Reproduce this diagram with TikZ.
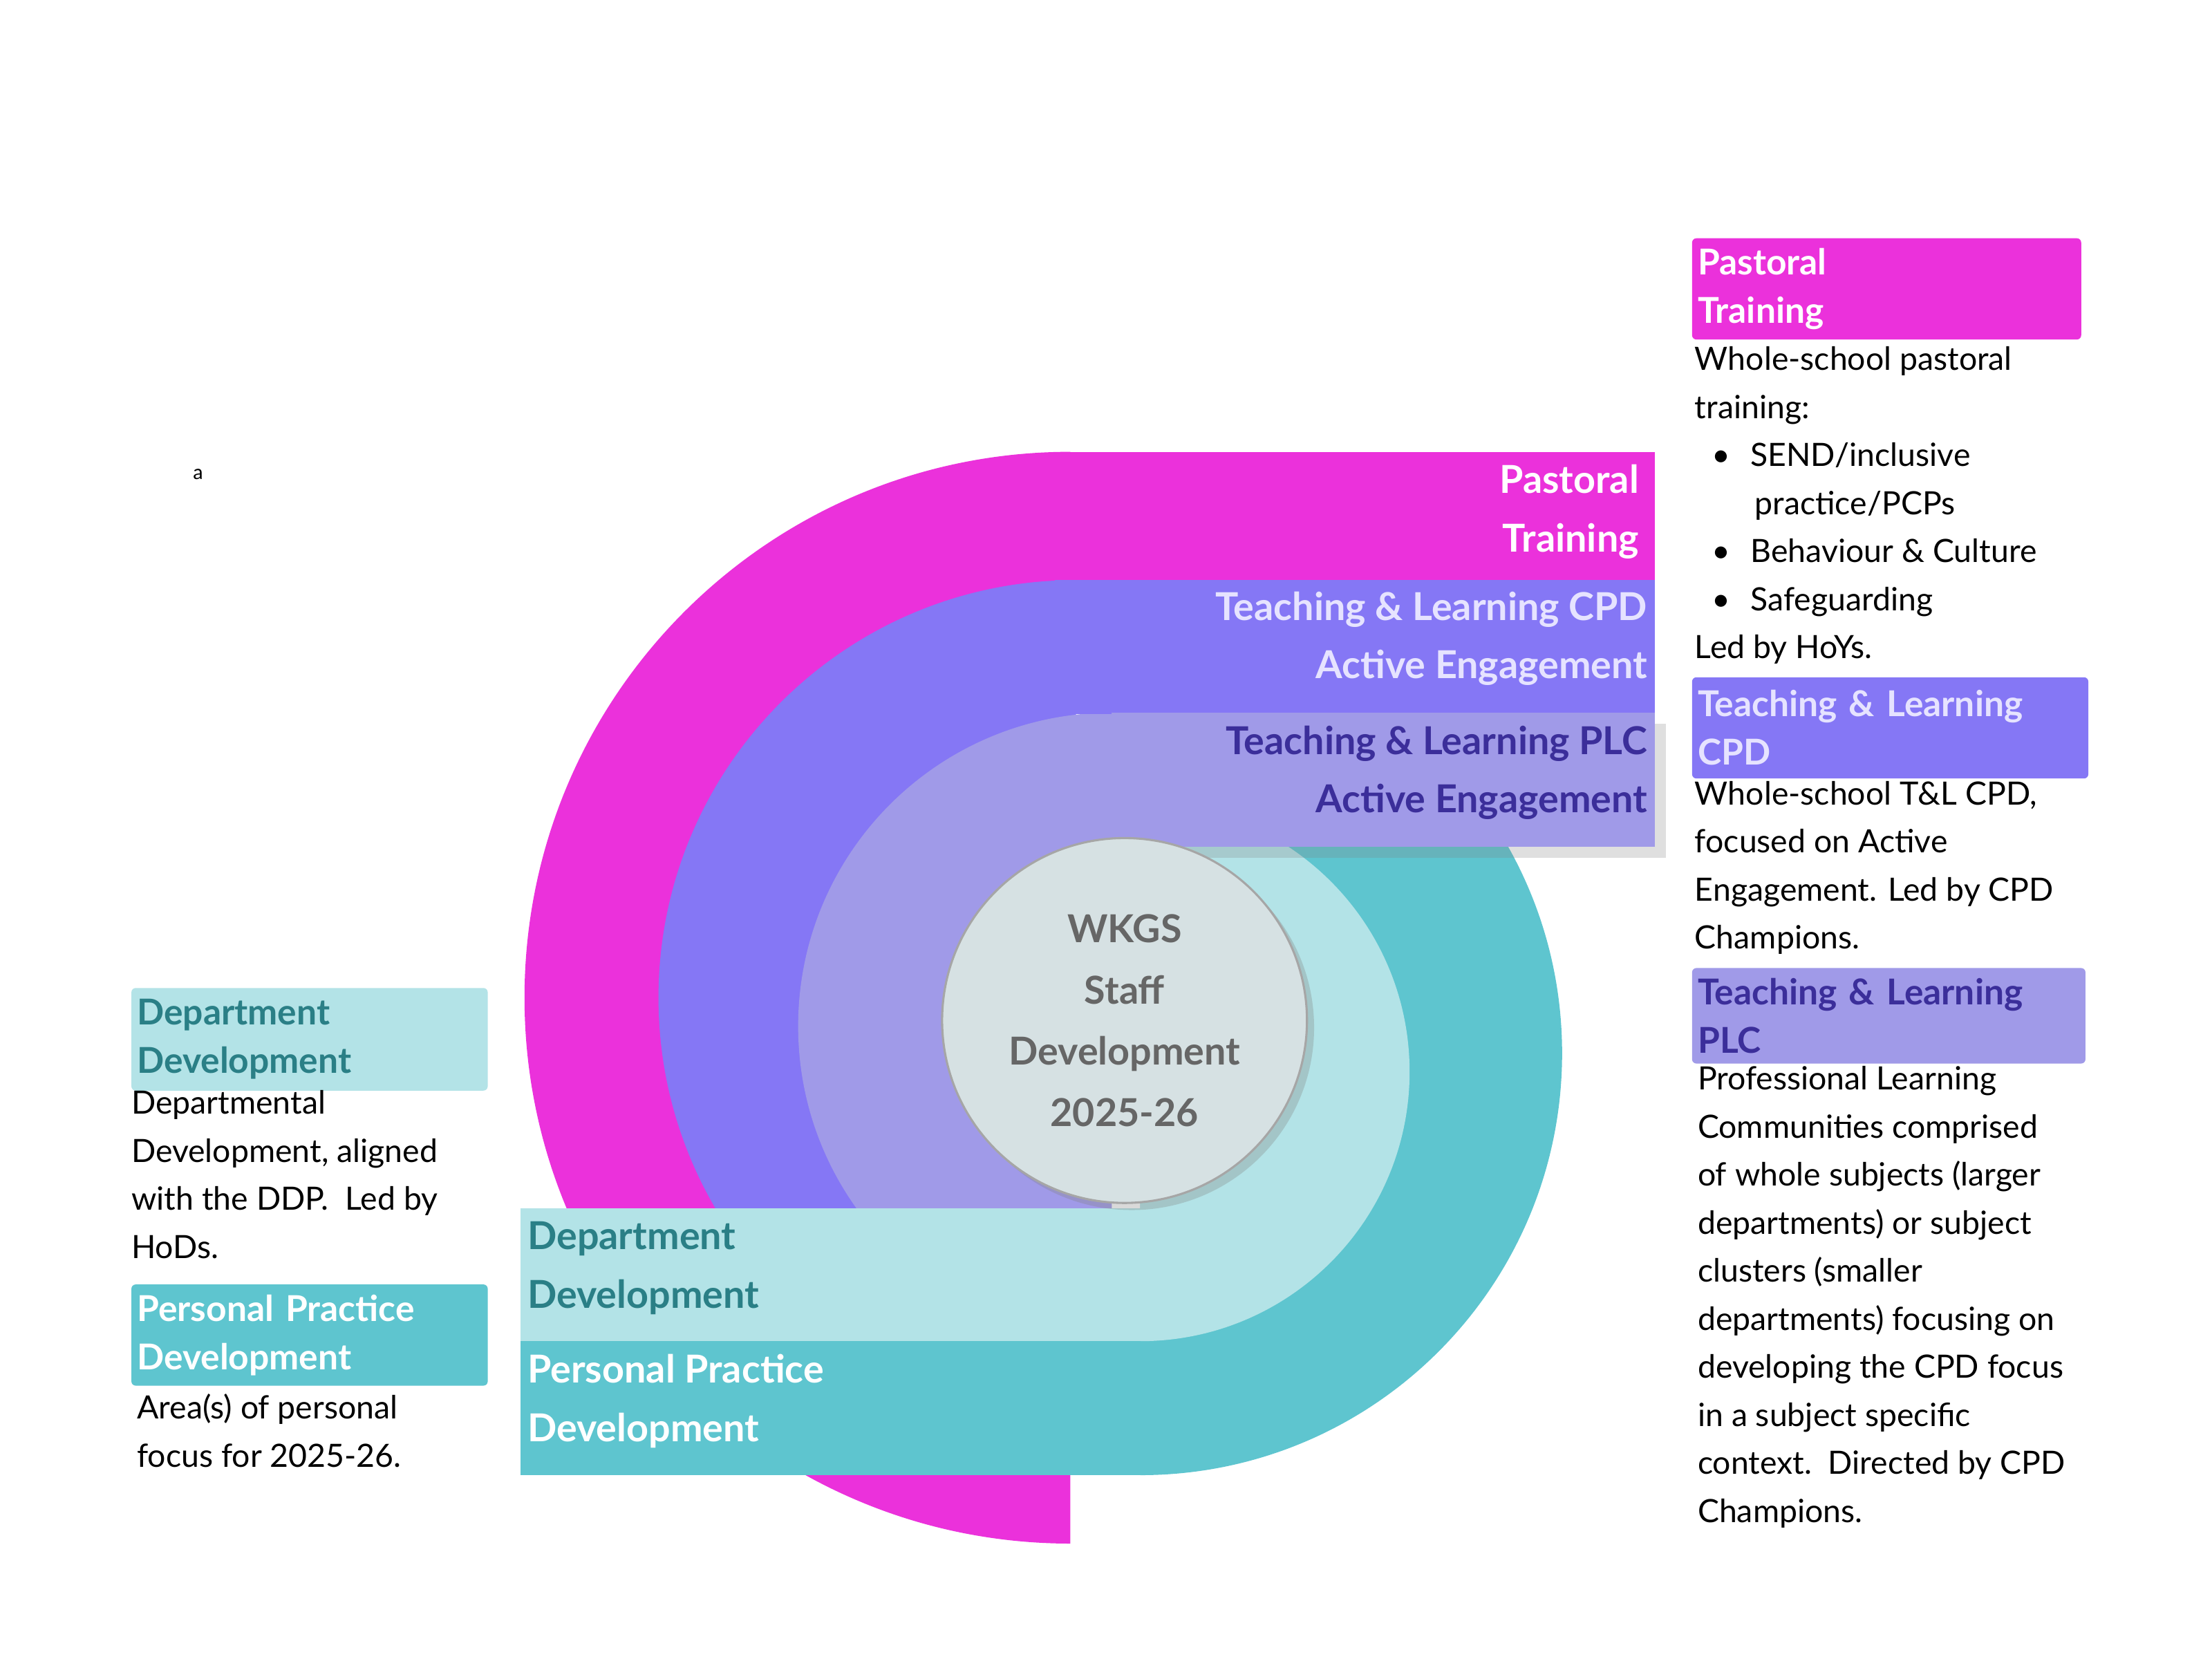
\documentclass[tikz,border=0pt]{standalone}
\usepackage{fontspec}
\setmainfont{Lato}
\usetikzlibrary{shadows}
\definecolor{magentaring}{HTML}{EB31DB}
\definecolor{purplering}{HTML}{8577F5}
\definecolor{lilacring}{HTML}{A09AE8}
\definecolor{tealring}{HTML}{5EC5CF}
\definecolor{paletealring}{HTML}{B3E3E7}
\definecolor{darkteal}{HTML}{2A7F86}
\definecolor{darklilac}{HTML}{3B2E9A}
\definecolor{palelilac}{HTML}{E6E3FF}
\definecolor{hubfill}{HTML}{D6E1E3}
\tikzset{
  ringlabel/.style={font=\fontsize{27}{41}\selectfont\bfseries, inner sep=0pt},
  keybox/.style={rounded corners=3pt, anchor=north west, minimum height=71pt,
                 inner sep=4pt, align=left, text width=#1,
                 font=\fontsize{25}{34}\selectfont\bfseries},
  keytext/.style={anchor=north west, inner sep=0pt, align=left,
                  font=\fontsize{22.5}{33.7}\selectfont}
}
\newcommand{\bul}[1]{\hspace*{12pt}\textbullet\hspace{14pt}#1}
\begin{document}
\begin{tikzpicture}[x=1pt,y=-1pt]
\useasboundingbox (0,0) rectangle (1552,1164);
% rings
\fill[magentaring] (751,700) ++(0,-383) arc[start angle=-90,end angle=-270,radius=383] -- cycle;
\fill[purplering] (755,700) ++(0,-293) arc[start angle=-90,end angle=-270,radius=293] -- cycle;
\fill[tealring] (800,739) ++(0,-296) arc[start angle=-90,end angle=90,radius=296] -- cycle;
\fill[lilacring] (780,720) ++(0,-220) arc[start angle=-90,end angle=-270,radius=220] -- cycle;
\fill[paletealring] (800,752) ++(0,-189) arc[start angle=-90,end angle=90,radius=189] -- cycle;
% bands
\fill[magentaring] (740,317) rectangle (1161,408);
\fill[purplering] (740,407) rectangle (1161,501);
\fill[lilacring, drop shadow={opacity=0.25,shadow xshift=8pt,shadow yshift=-8pt}] (780,500) rectangle (1161,594);
\fill[paletealring] (365,848) rectangle (800,941);
\fill[tealring] (365,941) rectangle (800,1035);
% hub
\node[circle, minimum size=256pt, fill=hubfill, draw=gray!70, line width=1.5pt,
      drop shadow={opacity=0.3,shadow xshift=5pt,shadow yshift=-5pt},
      align=center, text=black!60, font=\fontsize{27}{43}\selectfont\bfseries]
  (hub) at (789,716) {WKGS\\Staff\\Development\\2025-26};
% ring labels
\node[ringlabel, text=white, align=right, anchor=north east] (pastoralring) at (1150,326) {Pastoral\\Training};
\node[ringlabel, text=palelilac, align=right, anchor=north east] (cpdring) at (1156,415) {Teaching \& Learning CPD\\Active Engagement};
\node[ringlabel, text=darklilac, align=right, anchor=north east] (plcring) at (1156,509) {Teaching \& Learning PLC\\Active Engagement};
\node[ringlabel, text=darkteal, align=left, anchor=north west] (deptring) at (370,857) {Department\\Development};
\node[ringlabel, text=white, align=left, anchor=north west] (personalring) at (370,950) {Personal Practice\\Development};
\node[font=\fontsize{14}{16}\selectfont, inner sep=0pt] (mark) at (139,333) {a};
% right key
\node[keybox=265pt, fill=magentaring, text=white] (pastoralkey) at (1187,167) {Pastoral\\Training};
\node[keytext] (pastoraltext) at (1189,243) {Whole-school pastoral\\training:\\
  \bul{SEND/inclusive}\\\hspace*{42pt}practice/PCPs\\\bul{Behaviour \& Culture}\\\bul{Safeguarding}\\Led by HoYs.};
\node[keybox=270pt, fill=purplering, text=palelilac] (cpdkey) at (1187,475) {Teaching \& Learning\\CPD};
\node[keytext] (cpdtext) at (1189,548) {Whole-school T\&L CPD,\\focused on Active\\Engagement. Led by CPD\\Champions.};
\node[keybox=268pt, fill=lilacring, text=darklilac, minimum height=67pt] (plckey) at (1187,679) {Teaching \& Learning\\PLC};
\node[keytext] (plctext) at (1191,748) {Professional Learning\\Communities comprised\\of whole subjects (larger\\departments) or subject\\clusters (smaller\\departments) focusing on\\developing the CPD focus\\in a subject specific\\context.\ \ Directed by CPD\\Champions.};
% left key
\node[keybox=242pt, fill=paletealring, text=darkteal, minimum height=72pt] (deptkey) at (92,693) {Department\\Development};
\node[keytext] (depttext) at (92,765) {Departmental\\Development, aligned\\with the DDP.\ \ Led by\\HoDs.};
\node[keybox=242pt, fill=tealring, text=white] (personalkey) at (92,901) {Personal Practice\\Development};
\node[keytext] (personaltext) at (96,978) {Area(s) of personal\\focus for 2025-26.};
\end{tikzpicture}
\end{document}
